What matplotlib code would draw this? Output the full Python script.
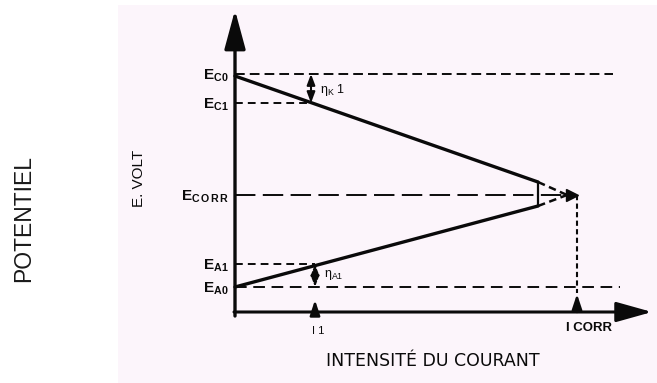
import matplotlib
matplotlib.use("Agg")
import matplotlib.pyplot as plt
from matplotlib.patches import Rectangle

plt.rcParams["font.family"] = ["Liberation Sans", "DejaVu Sans"]
plt.rcParams["mathtext.fontset"] = "custom"
plt.rcParams["mathtext.rm"] = "Liberation Sans"
plt.rcParams["mathtext.it"] = "Liberation Sans:italic"
plt.rcParams["mathtext.bf"] = "Liberation Sans:bold"

# Potential levels (arbitrary volt scale)
E_C0 = 2.38
E_C1 = 2.09
E_CORR = 1.17
E_A1 = 0.48
E_A0 = 0.25

# Currents (arbitrary scale)
I_1 = 0.78
I_CORR = 3.42

# Cathodic and anodic polarisation lines: measured (solid) part
cath_i = [0.0, 3.03]
cath_E = [2.36, 1.30]
anod_i = [0.0, 3.03]
anod_E = [0.25, 1.06]
# Extrapolation end, where both lines meet
meet_i = 3.32

level_values = [E_C0, E_C1, E_CORR, E_A1, E_A0]
level_labels = ["E$_{\\mathbf{C0}}$", "E$_{\\mathbf{C1}}$", "E$_{\\mathbf{C\\,O\\,R\\,R}}$",
                "E$_{\\mathbf{A1}}$", "E$_{\\mathbf{A0}}$"]
level_ends = [3.78, 0.76, 3.36, 0.80, 3.85]
level_dashes = [(5.0, 2.6), (4.0, 2.6), (10.5, 3.8), (4.0, 2.6), (6.0, 3.4)]

fig = plt.figure(figsize=(6.57, 3.83), dpi=100)
fig.patch.set_facecolor("white")
fig.add_artist(Rectangle((118 / 657, 0), 1 - 118 / 657, 1 - 5 / 383,
                         transform=fig.transFigure, facecolor="#fcf5fb",
                         edgecolor="none", zorder=0))

ax = fig.add_axes([0, 0, 1, 1])
ax.set_xlim(-2.35, 4.22)
ax.set_ylim(-0.71, 3.12)
ax.axis("off")
ax.patch.set_alpha(0)

ink = "#0a0a0a"

# Axes with arrow heads
ax.annotate("", xy=(0, 3.02), xytext=(0, -0.04),
            arrowprops=dict(arrowstyle="-|>,head_length=1.0,head_width=0.27",
                            mutation_scale=24, lw=2.4, color=ink,
                            shrinkA=0, shrinkB=0))
ax.annotate("", xy=(4.17, 0), xytext=(-0.01, 0),
            arrowprops=dict(arrowstyle="-|>,head_length=1.0,head_width=0.28",
                            mutation_scale=22, lw=2.2, color=ink,
                            shrinkA=0, shrinkB=0))

# Potential levels
for val, end, dsh in zip(level_values, level_ends, level_dashes):
    ax.plot([0, end], [val, val], color=ink, lw=1.4,
            linestyle=(0, dsh), solid_capstyle="butt", dash_capstyle="butt")

for lab, val in zip(level_labels, level_values):
    ax.text(-0.06, val - 0.02, lab, ha="right", va="center", fontsize=11,
            color=ink, fontweight="bold")

# Polarisation lines
ax.plot(cath_i, cath_E, color=ink, lw=2.4, solid_capstyle="round")
ax.plot(anod_i, anod_E, color=ink, lw=2.4, solid_capstyle="round")
ax.plot([cath_i[-1], meet_i], [cath_E[-1], E_CORR], color=ink, lw=1.8,
        linestyle=(0, (3.0, 1.8)))
ax.plot([anod_i[-1], meet_i], [anod_E[-1], E_CORR], color=ink, lw=1.8,
        linestyle=(0, (3.0, 1.8)))
ax.plot([cath_i[-1], cath_i[-1]], [cath_E[-1], anod_E[-1]], color=ink, lw=1.6)
ax.plot([meet_i + 0.05], [E_CORR], marker=">", markersize=8, color=ink)

# Corrosion current drop line and arrow
ax.plot([I_CORR, I_CORR], [E_CORR, 0.19], color=ink, lw=1.5,
        linestyle=(0, (2.5, 1.6)))
ax.annotate("", xy=(I_CORR, 0.18), xytext=(I_CORR, 0.0),
            arrowprops=dict(arrowstyle="-|>,head_length=0.9,head_width=0.3",
                            mutation_scale=10, lw=1.8, color=ink,
                            shrinkA=0, shrinkB=0))
ax.text(I_CORR + 0.35, -0.16, "I CORR", ha="right", va="center",
        fontsize=9.5, color=ink, fontweight="bold")

# Current i1 arrow
ax.annotate("", xy=(I_1 + 0.02, 0.12), xytext=(I_1 + 0.02, 0.0),
            arrowprops=dict(arrowstyle="-|>,head_length=0.9,head_width=0.3",
                            mutation_scale=10, lw=1.8, color=ink,
                            shrinkA=0, shrinkB=0))
ax.text(I_1 + 0.05, -0.19, "I 1", ha="center", va="center",
        fontsize=8, color=ink)

# Overpotentials
ax.annotate("", xy=(I_1 - 0.02, E_C0), xytext=(I_1 - 0.02, E_C1),
            arrowprops=dict(arrowstyle="<|-|>,head_length=0.8,head_width=0.3",
                            mutation_scale=8, lw=1.5, color=ink,
                            shrinkA=0, shrinkB=0))
ax.text(I_1 + 0.07, 2.22, "η$_{\\mathrm{K}}$ 1", ha="left", va="center",
        fontsize=9, color=ink)
ax.annotate("", xy=(I_1 + 0.02, E_A1), xytext=(I_1 + 0.02, E_A0),
            arrowprops=dict(arrowstyle="<|-|>,head_length=0.8,head_width=0.3",
                            mutation_scale=8, lw=1.5, color=ink,
                            linestyle=(0, (2, 1)), shrinkA=0, shrinkB=0))
ax.text(I_1 + 0.11, 0.37, "η$_{\\mathrm{A1}}$", ha="left", va="center",
        fontsize=9, color=ink)

# Axis titles
ax.text(-0.96, 1.34, "E. VOLT", rotation=90, ha="center", va="center",
        fontsize=11, color=ink)
ax.text(1.98, -0.49, "INTENSITÉ DU COURANT", ha="center", va="center",
        fontsize=12.5, color=ink, family=["DejaVu Sans"])
ax.text(-2.11, 0.93, "POTENTIEL", rotation=90, ha="center", va="center",
        fontsize=16.5, color="#1a1a1a")

fig.savefig("out.png", dpi=100)
